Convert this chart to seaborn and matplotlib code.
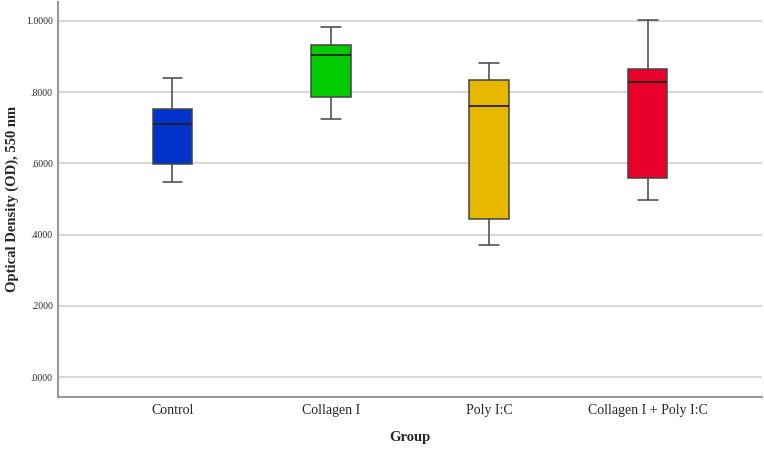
import matplotlib
matplotlib.use("Agg")
import matplotlib.pyplot as plt
import seaborn as sns
import pandas as pd

# Five values per group: whisker low, Q1, median, Q3, whisker high
groups = ['Control', 'Collagen I', 'Poly I:C', 'Collagen I + Poly I:C']
control = [0.547, 0.599, 0.710, 0.753, 0.840]
collagen = [0.725, 0.787, 0.905, 0.931, 0.982]
polyic = [0.371, 0.444, 0.761, 0.834, 0.881]
collagen_polyic = [0.497, 0.559, 0.829, 0.864, 1.003]
colors = ['#0033cc', '#00cc00', '#e6b800', '#e8002b']

y_ticks = [0.0, 0.2, 0.4, 0.6, 0.8, 1.0]
y_tick_labels = ['.0000', '.2000', '.4000', '.6000', '.8000', '1.0000']

df = pd.DataFrame({
    'Group': [g for g, vals in zip(groups, [control, collagen, polyic, collagen_polyic]) for _ in vals],
    'OD': control + collagen + polyic + collagen_polyic,
})

sns.set_style('white')
plt.rcParams['font.family'] = ['Liberation Serif', 'DejaVu Serif']

fig = plt.figure(figsize=(7.64, 4.49), dpi=100)
ax = fig.add_axes([0.0763, 0.1165, 0.9207, 0.879])

ax.yaxis.grid(True, color='#d4d4d4', linewidth=1.3, zorder=0)
ax.set_axisbelow(True)

sns.boxplot(data=df, x='Group', y='OD', hue='Group', order=groups, hue_order=groups,
            palette=colors, legend=False, width=0.25, whis=1.5, linewidth=1.1,
            linecolor='#444444', saturation=1, ax=ax,
            medianprops={'color': '#222222', 'linewidth': 1.3})

ax.set_ylim(-0.055, 1.053)
ax.set_xlim(-0.721, 3.72)
ax.set_yticks(y_ticks)
ax.set_yticklabels(y_tick_labels, fontsize=7)
ax.tick_params(axis='both', length=0)
ax.tick_params(axis='x', labelsize=10, pad=5)
ax.tick_params(axis='y', pad=4)

ax.set_xlabel('Group', fontsize=10.5, fontweight='bold', labelpad=10)
ax.set_ylabel('Optical Density (OD), 550 nm', fontsize=10.5, fontweight='bold', labelpad=5)

for side in ['top', 'right']:
    ax.spines[side].set_visible(False)
for side in ['left', 'bottom']:
    ax.spines[side].set_color('#9a9a9a')
    ax.spines[side].set_linewidth(1.5)

plt.savefig('out.png', dpi=100)
